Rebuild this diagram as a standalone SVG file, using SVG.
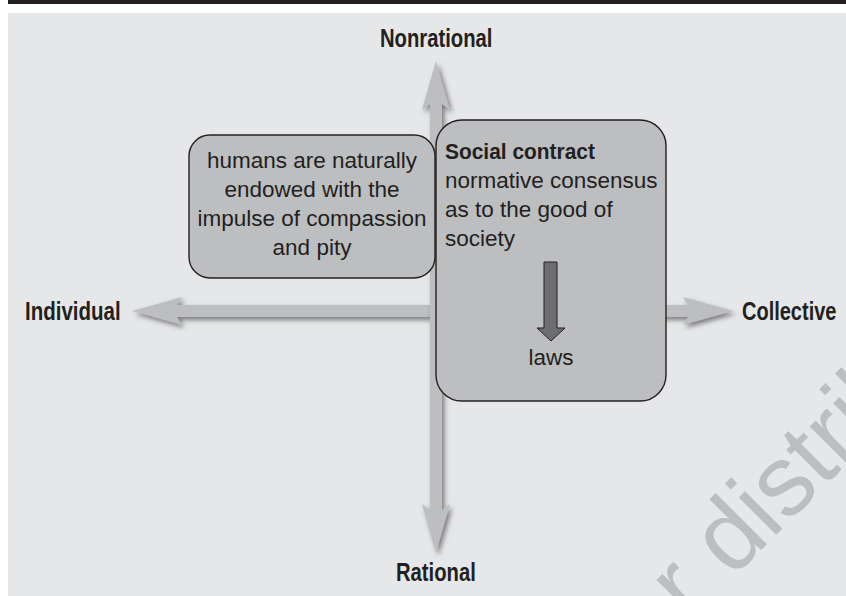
<svg xmlns="http://www.w3.org/2000/svg" width="846" height="596" viewBox="0 0 846 596">
<defs>
<style>
.panel{fill:#e6e7e8}
.axis{fill:#bcbec0;filter:url(#shadow)}
.box{fill:#bcbec0;stroke:#231f20;stroke-width:1.4}
.txt{font-family:"Liberation Sans",Arial,sans-serif;font-size:22.5px;fill:#231f20}
.lbl{font-family:"Liberation Sans",Arial,sans-serif;font-weight:bold;font-size:25px;fill:#231f20}
.wm{font-family:"Liberation Sans",Arial,sans-serif;font-size:100px;fill:#bcbec0}
</style>
<filter id="shadow" x="-20%" y="-20%" width="140%" height="140%">
<feDropShadow dx="2.5" dy="3" stdDeviation="2.5" flood-color="#58595b" flood-opacity="0.75"/>
</filter>
</defs>
<rect x="8" y="0" width="838" height="4" fill="#231f20"/>
<rect class="panel" x="8" y="13" width="838" height="583"/>
<text class="wm" transform="translate(689,622) rotate(-45)">r distribute</text>
<g id="connectors">
<polygon class="axis" points="132,311 182,297 177,305 688,305 683,297 733,311 683,325 688,317 177,317 182,325"/>
<polygon class="axis" points="436,61 450,110 442,104 442,510 450,504 436,553 422,504 430,510 430,104 422,110"/>
</g>
<g id="label-nonrational"><text class="lbl" transform="translate(380,47) scale(0.81,1)">Nonrational</text></g>
<g id="label-rational"><text class="lbl" transform="translate(396,581) scale(0.81,1)">Rational</text></g>
<g id="label-individual"><text class="lbl" transform="translate(25,320) scale(0.82,1)">Individual</text></g>
<g id="label-collective"><text class="lbl" transform="translate(742,320) scale(0.8,1)">Collective</text></g>
<g id="node-compassion">
<rect class="box" x="189" y="135" width="246" height="143" rx="21"/>
<text class="txt" text-anchor="middle" x="312" y="168">humans are naturally</text>
<text class="txt" text-anchor="middle" x="312" y="197">endowed with the</text>
<text class="txt" text-anchor="middle" x="312" y="226">impulse of compassion</text>
<text class="txt" text-anchor="middle" x="312" y="255">and pity</text>
</g>
<g id="node-social-contract">
<rect class="box" x="436" y="120" width="230" height="281" rx="26"/>
<text class="txt" transform="translate(445,159) scale(0.93,1)" font-weight="bold">Social contract</text>
<text class="txt" x="445" y="188">normative consensus</text>
<text class="txt" x="445" y="217">as to the good of</text>
<text class="txt" x="445" y="246">society</text>
<polygon points="544,262 557,262 557,328 565,328 551,341 537,328 544,328" fill="#6d6e71" stroke="#231f20" stroke-width="1"/>
<text class="txt" text-anchor="middle" x="551" y="365">laws</text>
</g>
</svg>
